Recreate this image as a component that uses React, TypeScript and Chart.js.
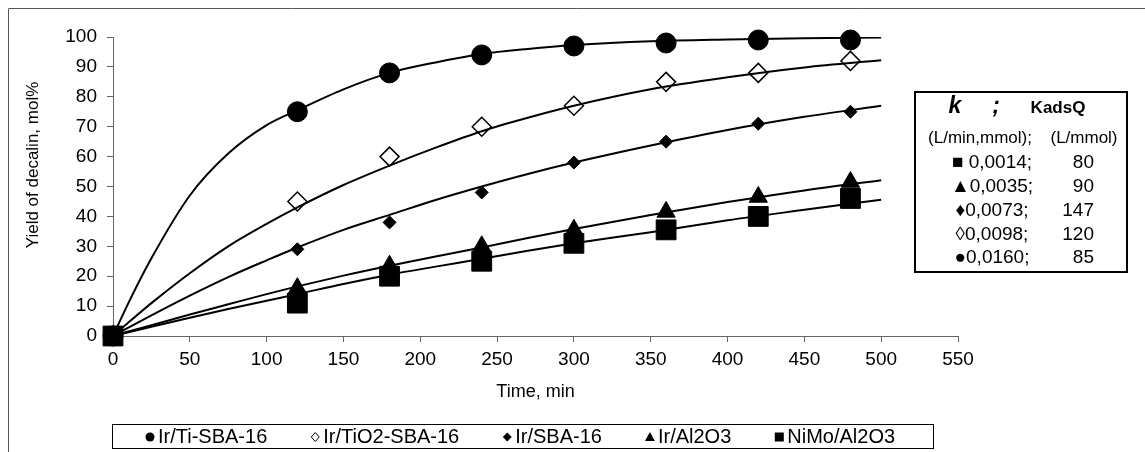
import React, { useEffect, useRef } from 'react';
import { Chart, registerables } from 'chart.js';

Chart.register(...registerables);

const FONT = "'Liberation Sans', Arial, Helvetica, sans-serif";

// Measured experimental points
const sampleTimes = [0, 120, 180, 240, 300, 360, 420, 480];
const yieldIrTiSBA16 = [0, 75, 88, 94, 97, 98, 99, 99];
const yieldIrTiO2SBA16 = [0, 45, 60, 70, 77, 85, 88, 92];
const yieldIrSBA16 = [0, 29, 38, 48, 58, 65, 71, 75];
const yieldIrAl2O3 = [0, 16, 23.5, 30, 35.5, 41.5, 46.5, 51.5];
const yieldNiMoAl2O3 = [0, 11, 20, 25, 31, 35.5, 40, 46];

// Fitted model curves
const fitTimes = [0, 10, 25, 50, 75, 100, 120, 150, 180, 210, 240, 270, 300, 350, 400, 450, 500];
const fitIrTiSBA16 = [0, 11, 26, 47, 61, 70.5, 75.5, 82.5, 88, 91.5, 94.3, 96, 97.3, 98.6, 99.2, 99.6, 99.8];
const fitIrTiO2SBA16 = [0, 4.5, 11, 21, 30, 37.5, 43, 50.5, 57, 63, 68.5, 73, 77, 82.5, 86.5, 89.8, 92.2];
const fitIrSBA16 = [0, 2.8, 6.9, 13.5, 19.7, 25.3, 29.6, 35.5, 40.5, 45.5, 50, 54.2, 58, 63.7, 68.9, 73.3, 77];
const fitIrAl2O3 = [0, 1.5, 3.6, 7.2, 10.6, 14, 16.6, 20.2, 23.5, 26.6, 29.6, 32.8, 35.8, 40.5, 44.8, 48.7, 52.1];
const fitNiMoAl2O3 = [0, 1.25, 3.1, 6.1, 9, 11.8, 14, 17.4, 20.5, 23.2, 25.8, 28.5, 31, 34.7, 38.7, 42.2, 45.6];

const seriesNames = ['Ir/Ti-SBA-16', 'Ir/TiO2-SBA-16', 'Ir/SBA-16', 'Ir/Al2O3', 'NiMo/Al2O3'];

// Axis ranges / ticks
const xMin = 0;
const xMax = 550;
const xStep = 50;
const yMin = 0;
const yMax = 100;
const yStep = 10;
const xTitle = 'Time, min';
const yTitle = 'Yield of decalin, mol%';

// Kinetic parameter table
const tableHeaderK = 'k';
const tableHeaderSep = ';';
const tableHeaderQ = 'KadsQ';
const tableUnitsK = '(L/min,mmol);';
const tableUnitsQ = '(L/mmol)';
const kSymbols = ['■', '▲', '♦', '◊', '●'];
const kValues = ['0,0014;', '0,0035;', '0,0073;', '0,0098;', '0,0160;'];
const kadsQValues = ['80', '90', '147', '120', '85'];

const measuredSets = [yieldIrTiSBA16, yieldIrTiO2SBA16, yieldIrSBA16, yieldIrAl2O3, yieldNiMoAl2O3];
const fitSets = [fitIrTiSBA16, fitIrTiO2SBA16, fitIrSBA16, fitIrAl2O3, fitNiMoAl2O3];

const markerStyles = [
  { pointStyle: 'circle', radius: 10, bg: '#000', border: '#000', bw: 1 },
  { pointStyle: 'rectRot', radius: 9.5, bg: '#fff', border: '#000', bw: 1.5 },
  { pointStyle: 'rectRot', radius: 6.5, bg: '#000', border: '#000', bw: 1 },
  { pointStyle: 'triangle', radius: 10.5, bg: '#000', border: '#000', bw: 1 },
  { pointStyle: 'rect', radius: 14, bg: '#000', border: '#000', bw: 1 },
];

function drawLegendMarker(ctx: CanvasRenderingContext2D, idx: number, cx: number, cy: number) {
  ctx.save();
  ctx.fillStyle = '#000';
  ctx.strokeStyle = '#000';
  ctx.lineWidth = 1;
  ctx.beginPath();
  if (idx === 0) {
    ctx.arc(cx, cy, 4.5, 0, Math.PI * 2);
    ctx.fill();
  } else if (idx === 1) {
    ctx.moveTo(cx, cy - 4.5);
    ctx.lineTo(cx + 4, cy);
    ctx.lineTo(cx, cy + 4.5);
    ctx.lineTo(cx - 4, cy);
    ctx.closePath();
    ctx.fillStyle = '#fff';
    ctx.fill();
    ctx.stroke();
  } else if (idx === 2) {
    ctx.moveTo(cx, cy - 4.5);
    ctx.lineTo(cx + 4.5, cy);
    ctx.lineTo(cx, cy + 4.5);
    ctx.lineTo(cx - 4.5, cy);
    ctx.closePath();
    ctx.fill();
  } else if (idx === 3) {
    ctx.moveTo(cx, cy - 5);
    ctx.lineTo(cx + 5, cy + 4);
    ctx.lineTo(cx - 5, cy + 4);
    ctx.closePath();
    ctx.fill();
  } else {
    ctx.rect(cx - 4.5, cy - 4.5, 9, 9);
    ctx.fill();
  }
  ctx.restore();
}

const decorPlugin = {
  id: 'decor',
  afterDraw(chart: any) {
    const ctx: CanvasRenderingContext2D = chart.ctx;
    const W = chart.width;
    const H = chart.height;
    const area = chart.chartArea;
    ctx.save();
    // outer frame (left & top visible)
    ctx.strokeStyle = '#595959';
    ctx.lineWidth = 1;
    ctx.beginPath();
    ctx.moveTo(0.5, H);
    ctx.lineTo(0.5, 0.5);
    ctx.lineTo(W, 0.5);
    ctx.stroke();

    // axis titles
    ctx.fillStyle = '#000';
    ctx.textAlign = 'center';
    ctx.textBaseline = 'middle';
    ctx.font = `18px ${FONT}`;
    ctx.fillText(xTitle, (area.left + area.right) / 2, 384);
    ctx.font = `17px ${FONT}`;
    ctx.save();
    ctx.translate(25, 157);
    ctx.rotate(-Math.PI / 2);
    ctx.fillText(yTitle, 0, 0);
    ctx.restore();

    // parameter table box
    ctx.lineWidth = 2;
    ctx.strokeStyle = '#000';
    ctx.strokeRect(907, 84, 212, 180);
    ctx.textBaseline = 'alphabetic';
    ctx.font = `italic bold 23px ${FONT}`;
    ctx.fillText(tableHeaderK, 947, 105);
    ctx.fillText(tableHeaderSep, 988, 105);
    ctx.font = `bold 17px ${FONT}`;
    ctx.fillText(tableHeaderQ, 1050, 105);
    ctx.textBaseline = 'middle';
    ctx.font = `17px ${FONT}`;
    ctx.fillText(tableUnitsK, 972, 130);
    ctx.fillText(tableUnitsQ, 1076, 130);
    ctx.font = `19px ${FONT}`;
    for (let i = 0; i < kValues.length; i++) {
      const y = 155 + 23.8 * i;
      ctx.textAlign = 'center';
      ctx.fillText(kSymbols[i] + (i === 0 ? ' ' : '') + kValues[i], 984, y);
      ctx.textAlign = 'right';
      ctx.fillText(kadsQValues[i], 1086, y);
    }

    // bottom legend
    ctx.lineWidth = 1;
    ctx.strokeRect(104.5, 416.5, 821, 24);
    ctx.font = `20px ${FONT}`;
    ctx.textAlign = 'left';
    ctx.textBaseline = 'middle';
    const gapToNextMarker = 48;
    let mx = 142;
    const ly = 429;
    seriesNames.forEach((name, i) => {
      drawLegendMarker(ctx, i, mx, ly);
      ctx.fillStyle = '#000';
      ctx.fillText(name, mx + 8, ly);
      mx += 8 + ctx.measureText(name).width + gapToNextMarker;
    });
    ctx.restore();
  },
};

export default function App() {
  const ref = useRef<HTMLCanvasElement>(null);
  useEffect(() => {
    if (!ref.current) return;
    const axisColor = '#666';
    const datasets: any[] = [];
    fitSets.forEach((set, i) => {
      datasets.push({
        type: 'line',
        label: seriesNames[i] + ' fit',
        data: fitTimes.map((t, j) => ({ x: t, y: set[j] })),
        borderColor: '#000',
        borderWidth: 2,
        pointRadius: 0,
        fill: false,
        cubicInterpolationMode: 'monotone',
        order: 1,
      });
    });
    measuredSets.forEach((set, i) => {
      const m = markerStyles[i];
      datasets.push({
        type: 'scatter',
        label: seriesNames[i],
        data: sampleTimes.map((t, j) => ({ x: t, y: set[j] })),
        pointStyle: m.pointStyle,
        pointRadius: m.radius,
        pointBackgroundColor: m.bg,
        pointBorderColor: m.border,
        pointBorderWidth: m.bw,
        showLine: false,
        clip: false,
        order: 6 - i,
      });
    });
    const tickFont = { size: 19, family: FONT };
    const chart = new Chart(ref.current, {
      type: 'scatter',
      data: { datasets },
      options: {
        animation: false,
        responsive: false,
        devicePixelRatio: 1,
        events: [],
        layout: { padding: { left: 0, top: 29, right: 187, bottom: 76 } },
        plugins: { legend: { display: false }, tooltip: { enabled: false } },
        scales: {
          x: {
            type: 'linear',
            min: xMin,
            max: xMax,
            ticks: { stepSize: xStep, font: tickFont, color: '#000', padding: 6, maxRotation: 0 },
            grid: { drawOnChartArea: false, drawTicks: true, tickLength: 6, color: axisColor, lineWidth: 1 },
            border: { display: true, color: axisColor, width: 1 },
            afterFit: (s: any) => { s.height = 40; },
          },
          y: {
            type: 'linear',
            min: yMin,
            max: yMax,
            ticks: { stepSize: yStep, font: tickFont, color: '#000', padding: 10 },
            grid: { drawOnChartArea: false, drawTicks: true, tickLength: 6, color: axisColor, lineWidth: 1 },
            border: { display: true, color: axisColor, width: 1 },
            afterFit: (s: any) => { s.width = 105; },
          },
        },
      } as any,
      plugins: [decorPlugin],
    });
    return () => chart.destroy();
  }, []);
  return (
    <div style={{ position: 'fixed', left: 8, top: 8, width: 1137, height: 444 }}>
      <canvas ref={ref} width={1137} height={444} style={{ display: 'block' }} />
    </div>
  );
}
